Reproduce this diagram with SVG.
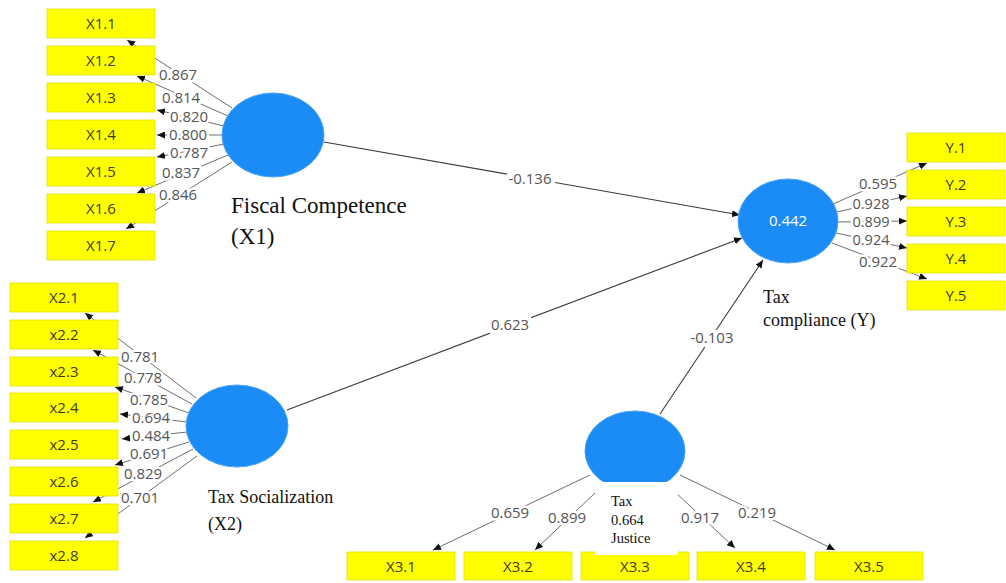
<svg xmlns="http://www.w3.org/2000/svg" width="1006" height="583" viewBox="0 0 1006 583">
<style>
.bg{fill:#ffffff}
.ind rect{fill:#ffff00;stroke:#e2e200;stroke-width:0.8}
.ind text{font-family:"Open Sans","Liberation Sans",sans-serif;font-size:15px;fill:#3c3c1e;text-anchor:middle}
.lat ellipse{fill:#1b8cf5;stroke:#4aa3f8;stroke-width:1}
.ld{stroke:#6e6e6e;stroke-width:1;fill:none;marker-end:url(#ah)}
.st{stroke:#3a3a3a;stroke-width:1.1;fill:none;marker-end:url(#ah)}
.lb{font-family:"Open Sans","Liberation Sans",sans-serif;font-size:15px;fill:#555555;text-anchor:middle;stroke:#ffffff;stroke-width:5;paint-order:stroke;stroke-linejoin:round}
.ys{font-size:14.5px}
.cap{font-family:"Liberation Serif","Times New Roman",serif;fill:#111111}
</style>
<defs>
<marker id="ah" markerUnits="userSpaceOnUse" markerWidth="9" markerHeight="7" refX="8" refY="3.5" orient="auto">
<path d="M0,0 L8,3.5 L0,7 z" fill="#111111"/>
</marker>
</defs>
<rect class="bg" x="0" y="0" width="1006" height="583"/>

<g id="connectors">
<!-- X1 loadings -->
<line class="ld" x1="232" y1="108" x2="127" y2="40"/>
<line class="ld" x1="228" y1="116" x2="137" y2="76"/>
<line class="ld" x1="224" y1="126" x2="157" y2="110"/>
<line class="ld" x1="222" y1="135" x2="157" y2="135"/>
<line class="ld" x1="224" y1="144" x2="157" y2="157"/>
<line class="ld" x1="228" y1="155" x2="137" y2="193"/>
<line class="ld" x1="232" y1="162" x2="126" y2="229"/>
<text class="lb" x="178" y="80">0.867</text>
<text class="lb" x="181" y="103">0.814</text>
<text class="lb" x="189" y="122">0.820</text>
<text class="lb" x="188" y="140">0.800</text>
<text class="lb" x="189" y="158">0.787</text>
<text class="lb" x="181" y="178">0.837</text>
<text class="lb" x="178" y="200">0.846</text>
<!-- X2 loadings -->
<line class="ld" x1="196" y1="398" x2="85" y2="313"/>
<line class="ld" x1="192" y1="404" x2="93" y2="350"/>
<line class="ld" x1="189" y1="413" x2="115" y2="387"/>
<line class="ld" x1="187" y1="422" x2="120" y2="414"/>
<line class="ld" x1="187" y1="432" x2="122" y2="439"/>
<line class="ld" x1="189" y1="442" x2="115" y2="465"/>
<line class="ld" x1="193" y1="449" x2="93" y2="502"/>
<line class="ld" x1="197" y1="456" x2="85" y2="538"/>
<text class="lb" x="140" y="362">0.781</text>
<text class="lb" x="143" y="383">0.778</text>
<text class="lb" x="149" y="405">0.785</text>
<text class="lb" x="151" y="423">0.694</text>
<text class="lb" x="151" y="441">0.484</text>
<text class="lb" x="149" y="459">0.691</text>
<text class="lb" x="143" y="479">0.829</text>
<text class="lb" x="140" y="503">0.701</text>
<!-- Y loadings -->
<line class="ld" x1="833" y1="204" x2="927" y2="163"/>
<line class="ld" x1="837" y1="212" x2="907" y2="196"/>
<line class="ld" x1="838" y1="222" x2="907" y2="221"/>
<line class="ld" x1="836" y1="233" x2="907" y2="248"/>
<line class="ld" x1="832" y1="243" x2="927" y2="279"/>
<text class="lb" x="878" y="189">0.595</text>
<text class="lb ys" x="871" y="209">0.928</text>
<text class="lb ys" x="871" y="227">0.899</text>
<text class="lb ys" x="871" y="245">0.924</text>
<text class="lb" x="878" y="267">0.922</text>
<!-- X3 loadings -->
<line class="ld" x1="590" y1="475" x2="433" y2="550"/>
<line class="ld" x1="595" y1="493" x2="535" y2="550"/>
<line class="ld" x1="635" y1="492" x2="635" y2="550"/>
<line class="ld" x1="675" y1="492" x2="735" y2="548"/>
<line class="ld" x1="680" y1="475" x2="835" y2="550"/>
<text class="lb" x="510" y="518">0.659</text>
<text class="lb" x="567" y="523">0.899</text>
<text class="lb" x="700" y="523">0.917</text>
<text class="lb" x="757" y="518">0.219</text>
<!-- structural paths -->
<line class="st" x1="324" y1="142" x2="740" y2="215"/>
<line class="st" x1="287" y1="410" x2="742" y2="238"/>
<line class="st" x1="660" y1="414" x2="763" y2="260"/>
<rect x="507" y="170" width="48" height="17" fill="#ffffff"/>
<rect x="490" y="317" width="41" height="17" fill="#ffffff"/>
<rect x="689" y="330" width="47" height="17" fill="#ffffff"/>
<text class="lb" x="530" y="184">-0.136</text>
<text class="lb" x="510" y="330">0.623</text>
<text class="lb" x="712" y="343">-0.103</text>
</g>

<g id="X1.1" class="ind"><rect x="47" y="9" width="108" height="29"/><text x="101" y="29">X1.1</text></g>
<g id="X1.2" class="ind"><rect x="47" y="46" width="108" height="29"/><text x="101" y="66">X1.2</text></g>
<g id="X1.3" class="ind"><rect x="47" y="83" width="108" height="29"/><text x="101" y="103">X1.3</text></g>
<g id="X1.4" class="ind"><rect x="47" y="120" width="108" height="29"/><text x="101" y="140">X1.4</text></g>
<g id="X1.5" class="ind"><rect x="47" y="157" width="108" height="29"/><text x="101" y="177">X1.5</text></g>
<g id="X1.6" class="ind"><rect x="47" y="194" width="108" height="29"/><text x="101" y="214">X1.6</text></g>
<g id="X1.7" class="ind"><rect x="47" y="231" width="108" height="29"/><text x="101" y="251">X1.7</text></g>

<g id="X2.1" class="ind"><rect x="10" y="283" width="108" height="29"/><text x="64" y="303">X2.1</text></g>
<g id="x2.2" class="ind"><rect x="10" y="320" width="108" height="29"/><text x="64" y="340">x2.2</text></g>
<g id="x2.3" class="ind"><rect x="10" y="357" width="108" height="29"/><text x="64" y="377">x2.3</text></g>
<g id="x2.4" class="ind"><rect x="10" y="393" width="108" height="29"/><text x="64" y="413">x2.4</text></g>
<g id="x2.5" class="ind"><rect x="10" y="430" width="108" height="29"/><text x="64" y="450">x2.5</text></g>
<g id="x2.6" class="ind"><rect x="10" y="467" width="108" height="29"/><text x="64" y="487">x2.6</text></g>
<g id="x2.7" class="ind"><rect x="10" y="504" width="108" height="29"/><text x="64" y="524">x2.7</text></g>
<g id="x2.8" class="ind"><rect x="10" y="541" width="108" height="29"/><text x="64" y="561">x2.8</text></g>

<g id="Y.1" class="ind"><rect x="907" y="133" width="98" height="29"/><text x="956" y="153">Y.1</text></g>
<g id="Y.2" class="ind"><rect x="907" y="170" width="98" height="29"/><text x="956" y="190">Y.2</text></g>
<g id="Y.3" class="ind"><rect x="907" y="207" width="98" height="29"/><text x="956" y="227">Y.3</text></g>
<g id="Y.4" class="ind"><rect x="907" y="244" width="98" height="29"/><text x="956" y="264">Y.4</text></g>
<g id="Y.5" class="ind"><rect x="907" y="281" width="98" height="29"/><text x="956" y="301">Y.5</text></g>

<g id="X3.1" class="ind"><rect x="347" y="552" width="108" height="28"/><text x="401" y="572">X3.1</text></g>
<g id="X3.2" class="ind"><rect x="464" y="552" width="108" height="28"/><text x="518" y="572">X3.2</text></g>
<g id="X3.3" class="ind"><rect x="581" y="552" width="108" height="28"/><text x="635" y="572">X3.3</text></g>
<g id="X3.4" class="ind"><rect x="697" y="552" width="108" height="28"/><text x="751" y="572">X3.4</text></g>
<g id="X3.5" class="ind"><rect x="815" y="552" width="108" height="28"/><text x="869" y="572">X3.5</text></g>

<g id="X1" class="lat">
<ellipse cx="273" cy="135" rx="51" ry="42"/>
<text class="cap" x="231" y="213" font-size="23">Fiscal Competence</text>
<text class="cap" x="231" y="244" font-size="23">(X1)</text>
</g>
<g id="X2" class="lat">
<ellipse cx="237" cy="426" rx="51" ry="41"/>
<text class="cap" x="208" y="503" font-size="18">Tax Socialization</text>
<text class="cap" x="208" y="530" font-size="18">(X2)</text>
</g>
<g id="Y" class="lat">
<ellipse cx="788" cy="221" rx="50" ry="42"/>
<text x="788" y="226" font-family="Open Sans, Liberation Sans, sans-serif" font-size="15" fill="#ffffff" text-anchor="middle">0.442</text>
<text class="cap" x="763" y="303" font-size="18">Tax</text>
<text class="cap" x="763" y="326" font-size="18">compliance (Y)</text>
</g>
<g id="X3" class="lat">
<ellipse cx="635" cy="451" rx="50" ry="40"/>
<rect x="595" y="482" width="83" height="73" fill="#ffffff"/>
<text class="cap" x="611" y="506" font-size="14.5">Tax</text>
<text class="cap" x="611" y="525" font-size="14.5">0.664</text>
<text class="cap" x="611" y="543" font-size="14.5">Justice</text>
</g>
</svg>
